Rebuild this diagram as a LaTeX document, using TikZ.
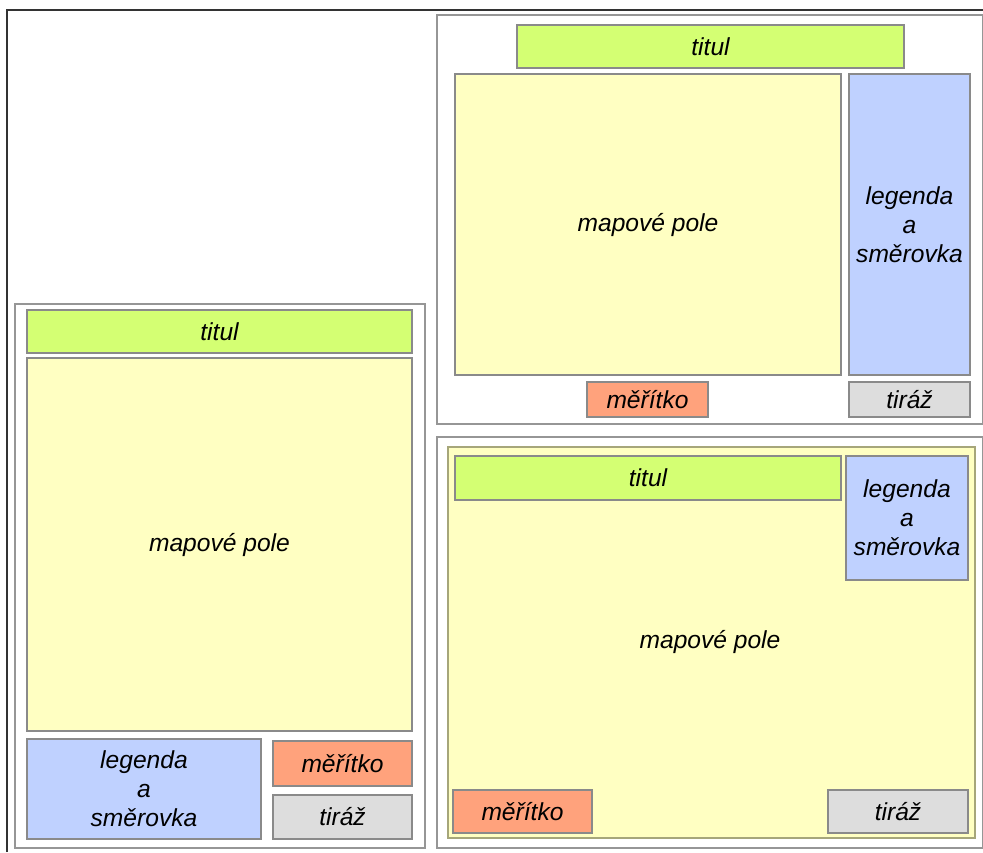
\documentclass[tikz,border=0pt]{standalone}
\usepackage{fontspec}
\setmainfont{Liberation Sans}
\usepackage{tikz}
\usetikzlibrary{positioning}

\definecolor{titulfill}{HTML}{D4FF73}
\definecolor{polefill}{HTML}{FFFFC2}
\definecolor{legfill}{HTML}{BFD1FF}
\definecolor{merfill}{HTML}{FFA27C}
\definecolor{tirfill}{HTML}{DDDDDD}
\definecolor{boxline}{HTML}{8A8A8A}
\definecolor{poleline}{HTML}{A6A67A}

\tikzset{
  box/.style={draw=boxline, line width=0.7pt},
  frame/.style={draw=boxline!90, line width=0.7pt},
  lbl/.style={font=\fontsize{14}{16.5}\selectfont\itshape, align=center}
}

\begin{document}
\begin{tikzpicture}[x=0.02cm, y=-0.02cm]

    \useasboundingbox (0,0) rectangle (983,852);

    % outer frame
    \draw[line width=1pt, color=black!80] (7,852) -- (7,10) -- (983,10);

    % left layout
    \draw[frame] (15,304) rectangle (425,848);
    \draw[box, fill=titulfill] (27,310) rectangle (412,353)
      node[midway, lbl] (lTitul) {titul};
    \draw[box, fill=polefill] (27,358) rectangle (412,731)
      node[midway, lbl] (lPole) {mapové pole};
    \draw[box, fill=legfill] (27,739) rectangle (261,839)
      node[midway, lbl] (lLeg) {legenda\\a\\směrovka};
    \draw[box, fill=merfill] (273,741) rectangle (412,786)
      node[midway, lbl] (lMer) {měřítko};
    \draw[box, fill=tirfill] (273,795) rectangle (412,839)
      node[midway, lbl] (lTir) {tiráž};

    % top right layout
    \draw[frame] (437,15) rectangle (983,424);
    \draw[box, fill=titulfill] (517,25) rectangle (904,68)
      node[midway, lbl] (tTitul) {titul};
    \draw[box, fill=polefill] (455,74) rectangle (841,375)
      node[midway, lbl] (tPole) {mapové pole};
    \draw[box, fill=legfill] (849,74) rectangle (970,375)
      node[midway, lbl] (tLeg) {legenda\\a\\směrovka};
    \draw[box, fill=merfill] (587,382) rectangle (708,417)
      node[midway, lbl] (tMer) {měřítko};
    \draw[box, fill=tirfill] (849,382) rectangle (970,417)
      node[midway, lbl] (tTir) {tiráž};

    % bottom right layout
    \draw[frame] (437,437) rectangle (983,848);
    \draw[draw=poleline, line width=0.7pt, fill=polefill] (448,447) rectangle (975,838);
    \node[lbl] (bPole) at (710,642) {mapové pole};
    \draw[box, fill=titulfill] (455,456) rectangle (841,500)
      node[midway, lbl] (bTitul) {titul};
    \draw[box, fill=legfill] (846,456) rectangle (968,580)
      node[midway, lbl] (bLeg) {legenda\\a\\směrovka};
    \draw[box, fill=merfill] (453,790) rectangle (592,833)
      node[midway, lbl] (bMer) {měřítko};
    \draw[box, fill=tirfill] (828,790) rectangle (968,833)
      node[midway, lbl] (bTir) {tiráž};

  \end{tikzpicture}
\end{document}
